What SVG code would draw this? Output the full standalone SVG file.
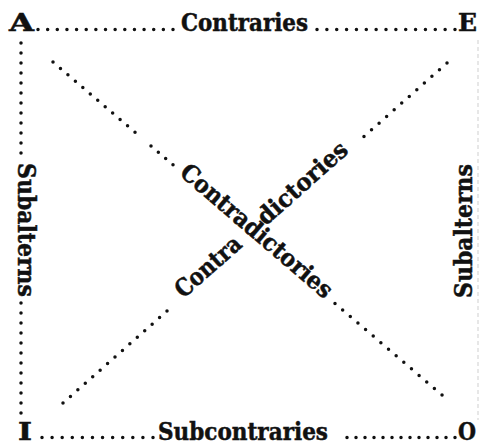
<svg xmlns="http://www.w3.org/2000/svg" width="479" height="447" viewBox="0 0 479 447">
<style>
.t{font-family:"DejaVu Serif","Liberation Serif",serif;font-weight:bold;font-size:24px;fill:#111;stroke:#111;stroke-width:0.5}
.dot{fill:none;stroke:#111;stroke-width:3.5;stroke-linecap:round}
.faint{fill:none;stroke:#cfcfcf;stroke-width:1;stroke-dasharray:4 3}
</style>
<rect width="479" height="447" fill="#fff"/>
<g id="connectors">
  <line class="dot" x1="38" y1="29.5" x2="174" y2="29.5" stroke-dasharray="0 9.643"/>
  <line class="dot" x1="317" y1="29.5" x2="456" y2="29.5" stroke-dasharray="0 9.857"/>
  <line class="dot" x1="42" y1="437.5" x2="154" y2="437.5" stroke-dasharray="0 10.09"/>
  <line class="dot" x1="347" y1="437.5" x2="456" y2="437.5" stroke-dasharray="0 9"/>
  <line class="dot" x1="21" y1="43" x2="21" y2="154" stroke-dasharray="0 10"/>
  <line class="dot" x1="21" y1="303" x2="21" y2="414" stroke-dasharray="0 10"/>
  <line class="faint" x1="478" y1="40" x2="478" y2="420"/>
  <line class="dot" x1="53" y1="62" x2="135.76" y2="132.85" stroke-dasharray="0 9.814"/>
  <line class="dot" x1="151" y1="145.9" x2="173.76" y2="165.35" stroke-dasharray="0 9.643"/>
  <line class="dot" x1="335" y1="303.4" x2="442.76" y2="395.65" stroke-dasharray="0 10.064"/>
  <line class="dot" x1="447" y1="63" x2="363.25" y2="137.16" stroke-dasharray="0 10.08"/>
  <line class="dot" x1="167" y1="311" x2="62.25" y2="403.66" stroke-dasharray="0 9.918"/>
  <text class="t" x="181" y="31" textLength="127" lengthAdjust="spacingAndGlyphs">Contraries</text>
  <text class="t" x="158" y="440" textLength="170" lengthAdjust="spacingAndGlyphs">Subcontraries</text>
  <text class="t" transform="translate(18,163) rotate(90)" x="0" y="0" textLength="134" lengthAdjust="spacingAndGlyphs">Subalterns</text>
  <text class="t" transform="translate(472,298) rotate(-90)" x="0" y="0" textLength="134" lengthAdjust="spacingAndGlyphs">Subalterns</text>
  <text class="t" transform="translate(251.4,237) rotate(40.6)" x="0" y="0" text-anchor="middle" textLength="192" lengthAdjust="spacingAndGlyphs">Contradictories</text>
  <text class="t" transform="translate(243.3,246.1) rotate(-41.5)" x="0" y="0" text-anchor="end" textLength="80" lengthAdjust="spacingAndGlyphs">Contra</text>
  <text class="t" transform="translate(265.8,226.2) rotate(-41.5)" x="0" y="0" textLength="112" lengthAdjust="spacingAndGlyphs">dictories</text>
</g>
<g id="node-A"><text class="t" x="9" y="31" textLength="25" lengthAdjust="spacingAndGlyphs">A</text></g>
<g id="node-E"><text class="t" x="458" y="31" textLength="19" lengthAdjust="spacingAndGlyphs">E</text></g>
<g id="node-I"><text class="t" x="18" y="440" textLength="14" lengthAdjust="spacingAndGlyphs">I</text></g>
<g id="node-O"><text class="t" x="458" y="440" textLength="18" lengthAdjust="spacingAndGlyphs">O</text></g>
</svg>
